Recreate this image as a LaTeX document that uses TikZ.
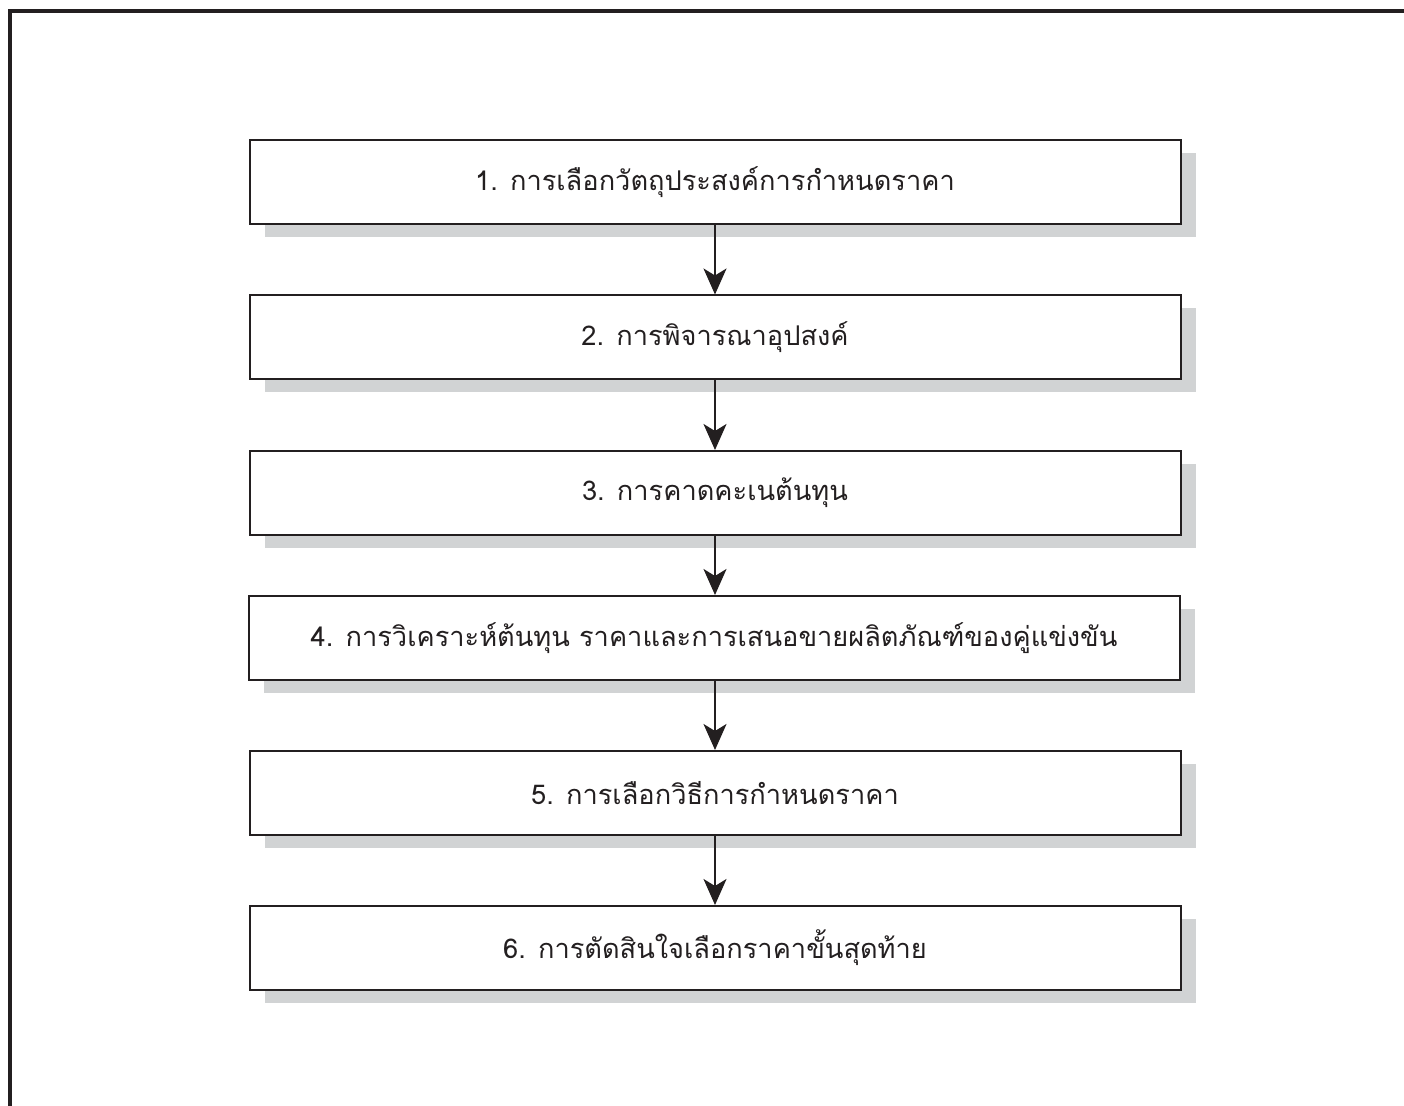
\documentclass[tikz,border=0pt]{standalone}
\usepackage{fontspec}
\newfontfamily\thaifont[Script=Thai]{Loma}
\usetikzlibrary{arrows.meta,shadows}
\definecolor{ink}{HTML}{231F20}
\definecolor{shade}{HTML}{D1D3D4}
\tikzset{
  stepbox/.style={draw=ink, line width=1pt, fill=white,
    minimum width=465.5pt, minimum height=42pt, inner sep=0pt,
    font=\thaifont\fontsize{13.6}{16}\selectfont, text=ink,
    general shadow={fill=shade, shadow xshift=7.5pt, shadow yshift=-6.5pt}},
  flow/.style={draw=ink, line width=1pt,
    -{Stealth[length=13pt, width=11.5pt, inset=3.5pt]}}
}
\begin{document}
\begin{tikzpicture}[x=0.5pt, y=-0.5pt]
\useasboundingbox (0,0) rectangle (1404,1106);
\fill[white] (0,0) rectangle (1404,1106);
% open frame: top and left rules
\draw[ink, line width=2pt] (9.5,1106) -- (9.5,11) -- (1404,11);

\node[stepbox] (s1) at (715,182.5) {1. การเลือกวัตถุประสงค์การกำหนดราคา};
\node[stepbox] (s2) at (715,337.5) {2. การพิจารณาอุปสงค์};
\node[stepbox] (s3) at (715,493)   {3. การคาดคะเนต้นทุน};
\node[stepbox] (s4) at (714,638)   {4. การวิเคราะห์ต้นทุน ราคาและการเสนอขายผลิตภัณฑ์ของคู่แข่งขัน};
\node[stepbox] (s5) at (715,793)   {5. การเลือกวิธีการกำหนดราคา};
\node[stepbox] (s6) at (715,948)   {6. การตัดสินใจเลือกราคาขั้นสุดท้าย};

% vertical connectors, each dropping straight from the box above
\draw[flow] (s1.south) -- (s1.south |- s2.north);
\draw[flow] (s2.south) -- (s2.south |- s3.north);
\draw[flow] (s3.south) -- (s3.south |- s4.north);
\draw[flow] (s4.south -| s3.south) -- (s3.south |- s5.north);
\draw[flow] (s5.south) -- (s5.south |- s6.north);
\end{tikzpicture}
\end{document}
